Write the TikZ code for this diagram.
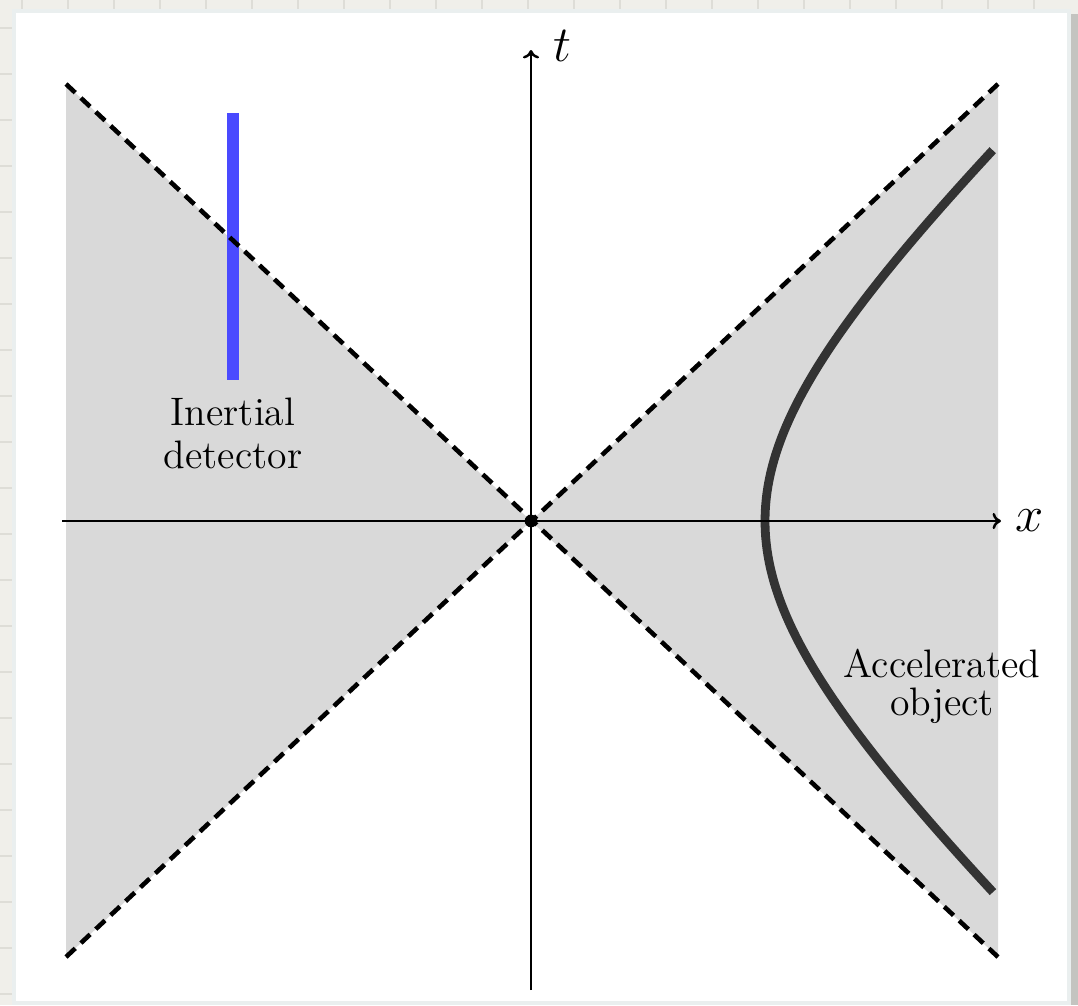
\documentclass[tikz,border=0pt]{standalone}
\usepackage{amsmath,amssymb}
\usepackage{xcolor}
\usetikzlibrary{arrows.meta,positioning}

\definecolor{deskbg}{RGB}{240,239,234}
\definecolor{deskgrid}{RGB}{222,221,215}
\definecolor{pagerim}{RGB}{234,239,239}
\definecolor{pageshadow}{RGB}{196,196,192}
\definecolor{conegray}{RGB}{217,217,217}
\definecolor{detblue}{RGB}{74,74,255}
\definecolor{worldgray}{RGB}{51,51,51}

\begin{document}
\begin{tikzpicture}[x=0.01cm,y=-0.01cm,
    cone/.style={fill=conegray,draw=none},
    lightray/.style={draw=black,line width=1.3pt,dash pattern=on 3.6pt off 2.2pt},
    axis/.style={draw=black,line width=0.7pt,-{To[length=2.4pt,width=4.6pt]}},
    axlabel/.style={font=\Large,inner sep=0pt},
    detector/.style={draw=detblue,line width=3.4pt},
    worldline/.style={draw=worldgray,line width=2.5pt},
    caption/.style={align=center,inner sep=0pt,font=\fontsize{11.3}{10.8}\selectfont},
    dot/.style={circle,fill=black,inner sep=0pt,minimum size=3.6pt}]
  \useasboundingbox (0,0) rectangle (1078,1005);
  % desk and page
  \fill[deskbg] (0,0) rectangle (1078,1005);
  \foreach \gx in {22,68,...,1078} \draw[deskgrid,line width=0.3pt] (\gx,0) -- (\gx,1005);
  \foreach \gy in {28,74,...,1005} \draw[deskgrid,line width=0.3pt] (0,\gy) -- (1078,\gy);
  \fill[pageshadow] (1071,14) rectangle (1078,1005);
  \filldraw[fill=white,draw=pagerim,line width=1.2pt] (14,11) rectangle (1069,1003);
  % light cone corners
  \coordinate (orig) at (531,521);
  \coordinate (ul) at (66,84);
  \coordinate (ur) at (998,84);
  \coordinate (ll) at (66,957);
  \coordinate (lr) at (998,957);
  \fill[cone] (ul) -- (orig) -- (ll) -- cycle;
  \fill[cone] (ur) -- (orig) -- (lr) -- cycle;
  % inertial detector
  \coordinate (dtop) at (233,113);
  \coordinate (dbot) at (233,380);
  \draw[detector] (dtop) -- (dbot);
  \node[caption,below=4.9pt of dbot] (inertial) {Inertial\\[1.4pt]detector};
  % accelerated object
  \draw[worldline] plot[domain=-1.302:1.302,samples=90,variable=\s]
    ({531+234*cosh(\s)},{521-218*sinh(\s)});
  \node[caption] (accel) at (942,686) {Accelerated\\object};
  % light rays
  \draw[lightray] (ul) -- (lr);
  \draw[lightray] (ll) -- (ur);
  % axes
  \coordinate (xl) at (62,521);
  \coordinate (xr) at (1001,521);
  \coordinate (tb) at (531,990);
  \coordinate (tt) at (531,50);
  \draw[axis] (xl) -- (xr);
  \draw[axis] (tb) -- (tt);
  \node[axlabel] (xlab) at (1030,521) {$x$};
  \node[axlabel] (tlab) at (562,46) {$t$};
  \node[dot] (event) at (orig) {};
\end{tikzpicture}
\end{document}
